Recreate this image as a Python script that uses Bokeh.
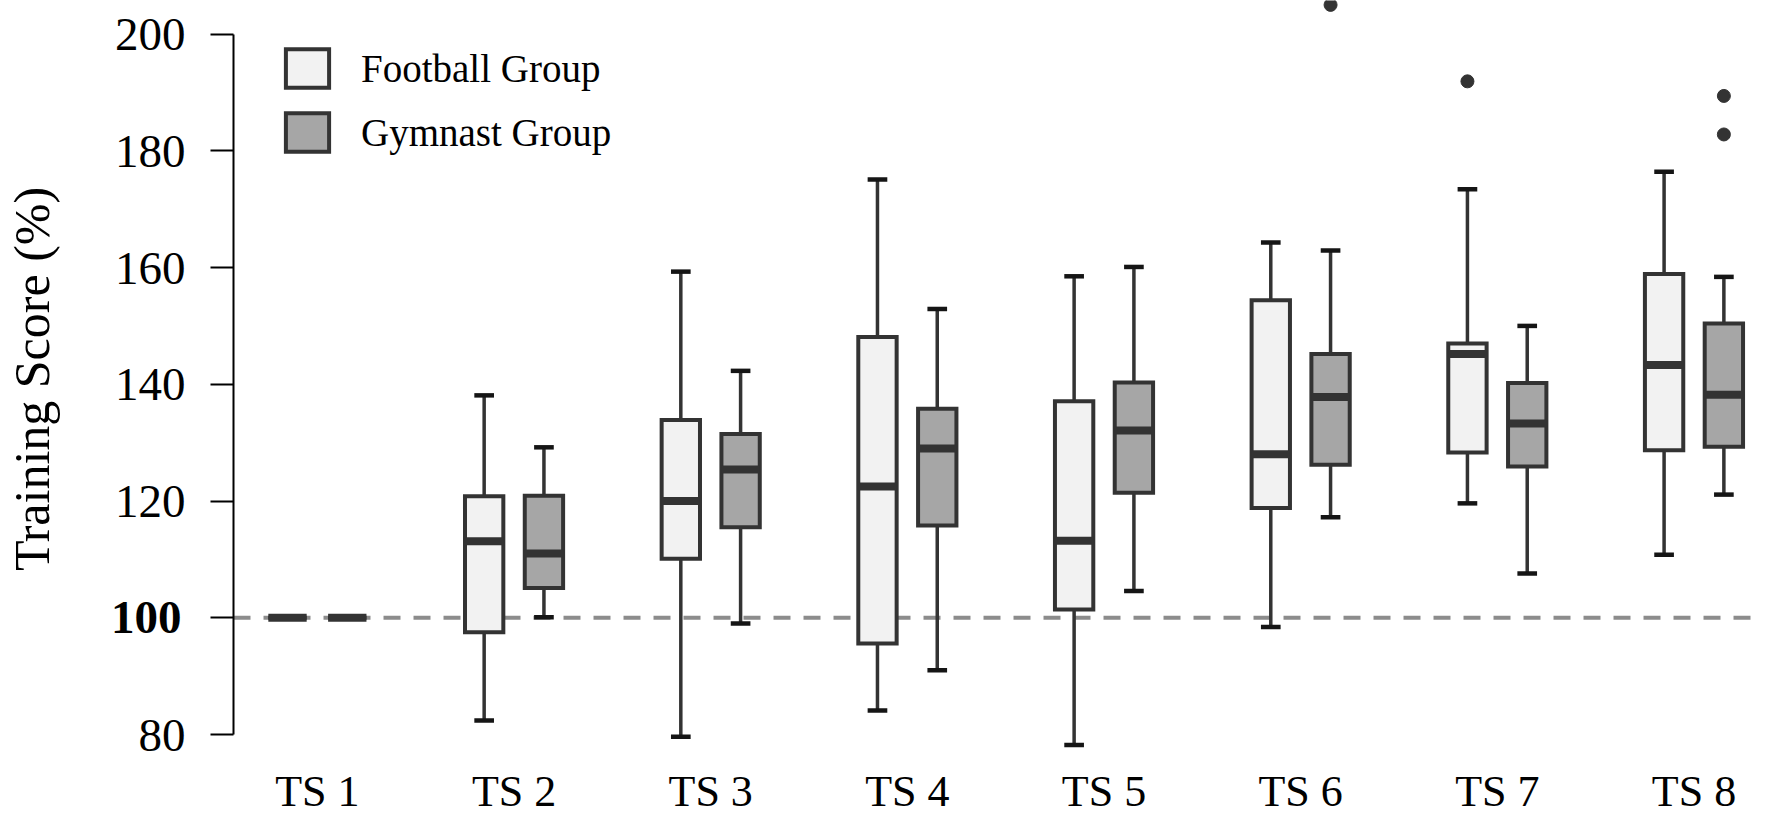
import numpy as np
from bokeh.plotting import figure
from bokeh.models import (Range1d, FixedTicker, Span, Legend, LegendItem,
                          ColumnDataSource, LinearAxis)
from bokeh.embed import file_html
from bokeh.resources import INLINE

# ---------------- data ----------------
categories = ["TS 1", "TS 2", "TS 3", "TS 4", "TS 5", "TS 6", "TS 7", "TS 8"]

football_upper  = [100, 138.1, 159.3, 175.1, 158.5, 164.3, 173.4, 176.4]
football_q3     = [100, 120.8, 133.9, 148.1, 137.1, 154.4, 147.0, 158.9]
football_median = [100, 113.1, 120.0, 122.5, 113.2, 128.0, 145.2, 143.3]
football_q1     = [100, 97.5, 110.1, 95.6, 101.4, 118.8, 128.3, 128.7]
football_lower  = [100, 82.4, 79.6, 84.1, 78.2, 98.4, 119.6, 110.8]

gymnast_upper  = [100, 129.2, 142.3, 152.9, 160.1, 162.9, 150.0, 158.4]
gymnast_q3     = [100, 120.9, 131.5, 135.8, 140.3, 145.2, 140.2, 150.4]
gymnast_median = [100, 111.0, 125.4, 129.0, 132.1, 137.8, 133.3, 138.2]
gymnast_q1     = [100, 105.1, 115.5, 115.8, 121.4, 126.2, 125.9, 129.3]
gymnast_lower  = [100, 100.1, 99.0, 91.0, 104.6, 117.2, 107.6, 121.1]

football_outlier_cat = ["TS 7"]
football_outlier_val = [191.9]
gymnast_outlier_cat = ["TS 6", "TS 8", "TS 8"]
gymnast_outlier_val = [205.0, 189.4, 182.8]

y_ticks = [80, 100, 120, 140, 160, 180, 200]
reference_level = 100

# ---------------- layout ----------------
W, H = 1756, 818
FRAME_L = 204
FRAME_B = 58
x_start, x_end = 0.5734, 8.3179
y_start, y_end = 76.06, 205.75

OFF = 0.152
BOX_W = 0.195
CAP_W = 0.10

FONT = "Liberation Serif"
FB_FILL = "#f2f2f2"
GY_FILL = "#a6a6a6"
EDGE = "#333333"
CAP = "#151515"

TICK_OUT = 23
TICK_STANDOFF = 25
TICK_FONT = "47px"
TICK_LABEL_W = 70.5   # width of a 3-digit tick label at 47px

p = figure(width=W, height=H,
           x_range=Range1d(x_start, x_end), y_range=Range1d(y_start, y_end),
           output_backend="svg", toolbar_location=None,
           min_border_left=FRAME_L, min_border_right=0,
           min_border_top=0, min_border_bottom=FRAME_B)
p.outline_line_color = None
p.grid.grid_line_color = None
p.background_fill_color = "white"
p.border_fill_color = "white"

idx = np.arange(1, len(categories) + 1, dtype=float)
cat_pos = {c: i for c, i in zip(categories, idx)}

# x axis: category names only
xa = p.xaxis[0]
xa.ticker = FixedTicker(ticks=list(idx), minor_ticks=[])
xa.major_label_overrides = {int(i): c for i, c in zip(idx, categories)}
xa.axis_line_color = None
xa.major_tick_line_color = None
xa.minor_tick_line_color = None
xa.major_tick_out = 0
xa.major_tick_in = 0
xa.minor_tick_out = 0
xa.minor_tick_in = 0
xa.major_label_standoff = 9
xa.major_label_text_font = FONT
xa.major_label_text_font_size = "44px"
xa.major_label_text_color = "black"

# main y axis (all ticks, 100 label drawn by the bold axis below)
ax = p.yaxis[0]
ax.ticker = FixedTicker(ticks=y_ticks, minor_ticks=[])
ax.bounds = (min(y_ticks), max(y_ticks))
ax.major_label_overrides = {reference_level: " "}
ax.major_label_text_font = FONT
ax.major_label_text_font_size = TICK_FONT
ax.major_label_text_color = "black"
ax.major_label_standoff = TICK_STANDOFF
ax.major_tick_out = TICK_OUT
ax.major_tick_in = 0
ax.minor_tick_out = 0
ax.minor_tick_in = 0
ax.axis_line_width = 2
ax.axis_line_color = "black"
ax.major_tick_line_width = 2
ax.major_tick_line_color = "black"

# outer axis: bold reference label + axis title
ax2 = LinearAxis(ticker=FixedTicker(ticks=[reference_level], minor_ticks=[]),
                 axis_line_color=None, major_tick_line_color=None,
                 minor_tick_line_color=None,
                 major_tick_out=0, major_tick_in=0, minor_tick_out=0, minor_tick_in=0,
                 major_label_standoff=-int(round(TICK_LABEL_W)),
                 major_label_text_font=FONT, major_label_text_font_size=TICK_FONT,
                 major_label_text_font_style="bold", major_label_text_color="black",
                 axis_label="Training Score (%)", axis_label_text_font=FONT,
                 axis_label_text_font_size="50px", axis_label_text_font_style="normal",
                 axis_label_text_color="black", axis_label_standoff=48)
p.add_layout(ax2, "left")

# reference dashed line
p.add_layout(Span(location=reference_level, dimension="width", line_color="#8c8c8c",
                  line_width=4, line_dash="17 13", level="underlay"))


def group(xc, upper, q3, med, q1, lower, fill):
    src = ColumnDataSource(dict(
        x=xc, upper=upper, q3=q3, med=med, q1=q1, lower=lower,
        cl=xc - CAP_W / 2, cr=xc + CAP_W / 2,
        ml=xc - BOX_W / 2, mr=xc + BOX_W / 2))
    p.segment(x0="x", y0="lower", x1="x", y1="upper", source=src,
              line_color=EDGE, line_width=3.5)
    p.segment(x0="cl", y0="upper", x1="cr", y1="upper", source=src,
              line_color=CAP, line_width=4.5)
    p.segment(x0="cl", y0="lower", x1="cr", y1="lower", source=src,
              line_color=CAP, line_width=4.5)
    r = p.vbar(x="x", width=BOX_W, top="q3", bottom="q1", source=src,
               fill_color=fill, line_color=EDGE, line_width=4, line_join="miter")
    p.segment(x0="ml", y0="med", x1="mr", y1="med", source=src,
              line_color=EDGE, line_width=8)
    return r


r_fb = group(idx - OFF, football_upper, football_q3, football_median,
             football_q1, football_lower, FB_FILL)
r_gy = group(idx + OFF, gymnast_upper, gymnast_q3, gymnast_median,
             gymnast_q1, gymnast_lower, GY_FILL)

p.scatter(x=[cat_pos[c] - OFF for c in football_outlier_cat], y=football_outlier_val,
          size=13, marker="circle", fill_color=EDGE, line_color=EDGE)
p.scatter(x=[cat_pos[c] + OFF for c in gymnast_outlier_cat], y=gymnast_outlier_val,
          size=13, marker="circle", fill_color=EDGE, line_color=EDGE)

legend = Legend(items=[LegendItem(label="Football Group", renderers=[r_fb]),
                       LegendItem(label="Gymnast Group", renderers=[r_gy])],
                location=(47, 601), orientation="vertical",
                glyph_width=54, glyph_height=48, label_height=48,
                label_standoff=27, spacing=16, padding=0, margin=0,
                border_line_color=None, background_fill_alpha=0,
                label_text_font=FONT, label_text_font_size="39px",
                label_text_color="black")
p.add_layout(legend, "center")

open("out.html", "w").write(file_html(p, INLINE))
